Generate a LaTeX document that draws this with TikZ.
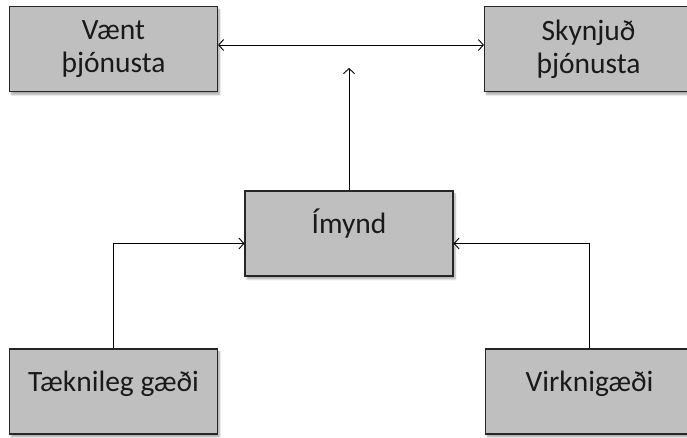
\documentclass[tikz,border=0pt]{standalone}
\usepackage{fontspec}
\setmainfont{Carlito}
\usetikzlibrary{arrows.meta,shadows.blur}

\begin{document}
\begin{tikzpicture}[x=1pt,y=1pt,
  box/.style={rectangle,draw=black!85,line width=1.1pt,fill=black!25,
    minimum width=208pt,minimum height=85pt,align=center,inner sep=0pt,
    font=\fontsize{29.5}{33}\selectfont,text=black!90,
    blur shadow={shadow xshift=2pt,shadow yshift=-3pt,shadow blur steps=6,shadow opacity=35}},
  single/.style={text height=20pt,text depth=20pt},
  link/.style={line width=0.9pt,-{Straight Barb[length=5pt,width=11pt]}}]
\useasboundingbox (0,0) rectangle (687,438);
\node [box] (vaent) at (113.5,389) {Vænt\\þjónusta};
\node [box] (skynjud) at (588.5,389) {Skynjuð\\þjónusta};
\node [box,single] (imynd) at (349,204.5) {Ímynd};
\node [box,single] (taekni) at (113.5,46.5) {Tæknileg gæði};
\node [box,single] (virkni) at (589.5,46.5) {Virknigæði};
\coordinate (top) at (349,370);
\draw [link,{Straight Barb[length=5pt,width=11pt]}-{Straight Barb[length=5pt,width=11pt]}] ([yshift=4pt]vaent.east) -- ([yshift=4pt]skynjud.west);
\draw [link] (imynd.north) -- (top);
\draw [link] (taekni.north) |- ([yshift=-10pt]imynd.west);
\draw [link] (virkni.north) |- ([yshift=-10pt]imynd.east);
\end{tikzpicture}
\end{document}
